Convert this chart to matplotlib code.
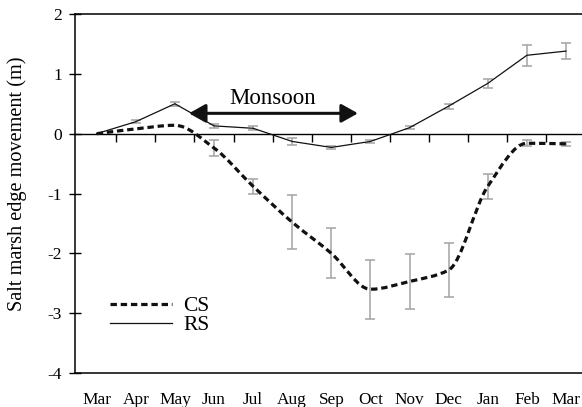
import numpy as np
import matplotlib
matplotlib.use("Agg")
import matplotlib.pyplot as plt
from matplotlib.path import Path
from matplotlib.patches import PathPatch, FancyArrowPatch, ArrowStyle
from matplotlib.lines import Line2D

plt.rcParams['font.family'] = ['Liberation Serif', 'DejaVu Serif']

# Monthly survey, March to March
months = ['Mar', 'Apr', 'May', 'Jun', 'Jul', 'Aug', 'Sep',
          'Oct', 'Nov', 'Dec', 'Jan', 'Feb', 'Mar']

# Salt marsh edge movement (m) with error bar half-widths
cs = [0.0, 0.08, 0.14, -0.24, -0.88, -1.48, -2.00,
      -2.60, -2.47, -2.28, -0.88, -0.16, -0.17]
cs_err = [0.0, 0.0, 0.0, 0.14, 0.13, 0.45, 0.42,
          0.49, 0.46, 0.45, 0.21, 0.05, 0.03]

rs = [0.0, 0.20, 0.50, 0.13, 0.09, -0.13, -0.23,
      -0.13, 0.10, 0.46, 0.84, 1.31, 1.38]
rs_err = [0.0, 0.03, 0.03, 0.03, 0.03, 0.06, 0.02,
          0.02, 0.02, 0.04, 0.07, 0.18, 0.13]

y_ticks = [2, 1, 0, -1, -2, -3, -4]

# Monsoon period marker (start/end in month index units) and its height
monsoon_start, monsoon_end, monsoon_level = 2.36, 6.68, 0.34

ERR_COLOR = '#a3a3a3'
LINE_COLOR = '#111111'


def smooth_path(xs, ys):
    """Monotone cubic (Fritsch-Carlson) Bezier path through the points."""
    xs = np.asarray(xs, float)
    ys = np.asarray(ys, float)
    n = len(xs)
    h = np.diff(xs)
    d = np.diff(ys) / h
    t = np.zeros(n)
    t[0], t[-1] = d[0], d[-1]
    for i in range(1, n - 1):
        if d[i - 1] * d[i] <= 0:
            t[i] = 0.0
        else:
            w1 = 2 * h[i] + h[i - 1]
            w2 = h[i] + 2 * h[i - 1]
            t[i] = (w1 + w2) / (w1 / d[i - 1] + w2 / d[i])
    verts = [(xs[0], ys[0])]
    codes = [Path.MOVETO]
    for i in range(n - 1):
        c1 = (xs[i] + h[i] / 3, ys[i] + t[i] * h[i] / 3)
        c2 = (xs[i + 1] - h[i] / 3, ys[i + 1] - t[i + 1] * h[i] / 3)
        verts += [c1, c2, (xs[i + 1], ys[i + 1])]
        codes += [Path.CURVE4] * 3
    return Path(verts, codes)


fig = plt.figure(figsize=(5.82, 4.07), dpi=100)
ax = fig.add_axes([75 / 582, 34 / 407, 507 / 582, 359 / 407])

x = np.arange(len(months))
cs_a, cs_e = np.array(cs), np.array(cs_err)
rs_a, rs_e = np.array(rs), np.array(rs_err)

# Error bars
m = cs_e > 0
ax.errorbar(x[m], cs_a[m], yerr=cs_e[m], fmt='none', ecolor=ERR_COLOR,
            elinewidth=1.1, capsize=3.3, capthick=1.1, zorder=2)
m = rs_e > 0
ax.errorbar(x[m], rs_a[m], yerr=rs_e[m], fmt='none', ecolor=ERR_COLOR,
            elinewidth=1.1, capsize=3.3, capthick=1.1, zorder=2)

# CS: smoothed dashed line
cs_dash = (0, (2.0, 1.2))
cs_style = dict(color=LINE_COLOR, linewidth=2.3, linestyle=cs_dash)
ax.add_patch(PathPatch(smooth_path(x, cs), fill=False, edgecolor=LINE_COLOR,
                       linewidth=2.3, linestyle=cs_dash,
                       capstyle='butt', zorder=3))
# RS: thin solid line
rs_style = dict(color=LINE_COLOR, linewidth=0.9)
ax.plot(x, rs, zorder=3, **rs_style)

# Axes ranges
ax.set_xlim(-0.555, 12.41)
ax.set_ylim(-4, 2)

# Zero line as the category axis with boundary ticks
ax.spines['bottom'].set_position(('data', 0))
ax.spines['bottom'].set_linewidth(1.0)
ax.spines['top'].set_visible(False)
ax.spines['right'].set_visible(False)
ax.spines['left'].set_linewidth(1.1)
ax.set_xticks(x[:-1] + 0.5)
ax.set_xticklabels([])
ax.tick_params(axis='x', direction='out', length=6, width=1.0)

ax.set_yticks(y_ticks)
ax.set_yticklabels([str(v) for v in y_ticks])
ax.tick_params(axis='y', direction='inout', length=9, width=1.0,
               labelsize=12.5, pad=5)

# Month labels and frame lines on a twin axis
ax2 = ax.twiny()
ax2.set_xlim(ax.get_xlim())
ax2.xaxis.set_ticks_position('bottom')
ax2.set_xticks(x)
ax2.set_xticklabels(months)
ax2.tick_params(axis='x', length=0, pad=14, labelsize=12.4,
                top=False, labeltop=False, bottom=True, labelbottom=True)
for side in ('left', 'right'):
    ax2.spines[side].set_visible(False)
ax2.spines['top'].set_linewidth(1.1)
ax2.spines['bottom'].set_linewidth(1.1)

ax.set_ylabel('Salt marsh edge movement (m)', fontsize=14.6)
ax.yaxis.set_label_coords(-0.095, 0.527)

# Monsoon arrow and label
arrow = FancyArrowPatch((monsoon_start, monsoon_level), (monsoon_end, monsoon_level),
                        arrowstyle=ArrowStyle('<|-|>', head_length=10, head_width=5.6),
                        mutation_scale=1, linewidth=2.2, color=LINE_COLOR,
                        shrinkA=0, shrinkB=0, zorder=4)
ax.add_patch(arrow)
ax.text(4.5, monsoon_level + 0.16, 'Monsoon',
        ha='center', va='baseline', fontsize=16.5, zorder=4)

# Legend
handles = [Line2D([], [], **cs_style), Line2D([], [], **rs_style)]
ax.legend(handles, ['CS', 'RS'], loc='upper left',
          bbox_to_anchor=(0.069, 0.214), frameon=False, fontsize=15.5,
          handlelength=2.9, handletextpad=0.5, labelspacing=-0.05,
          borderpad=0, borderaxespad=0)

fig.savefig('out.png', dpi=100)
